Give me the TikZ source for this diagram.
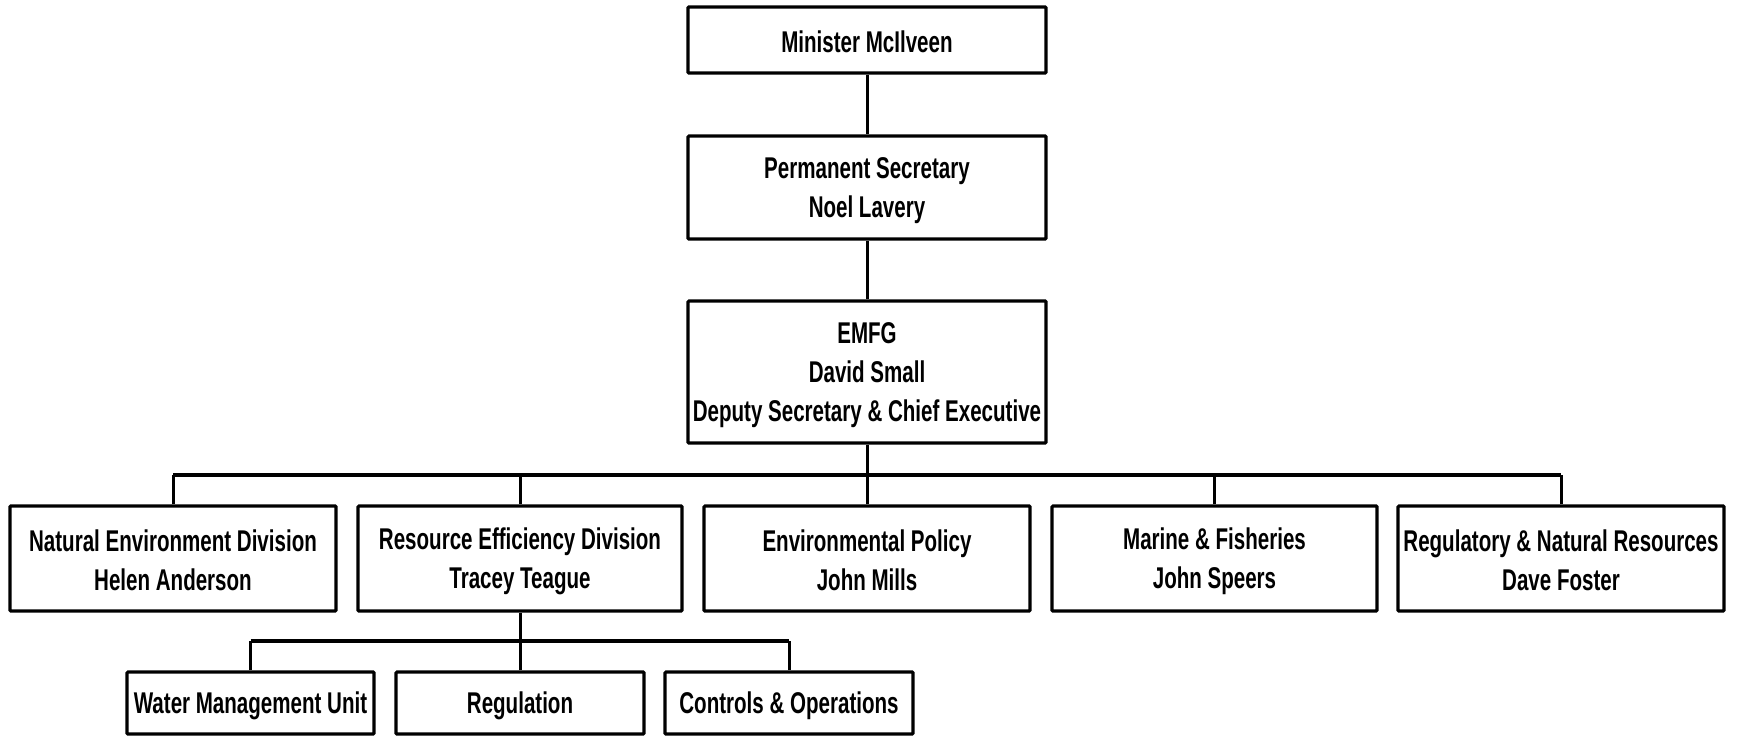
\documentclass[tikz,border=0pt]{standalone}
\usepackage{fontspec}
\setmainfont{Liberation Sans}[FakeStretch=0.685]
\newcommand\st{\rule[-4pt]{0pt}{32pt}}
\begin{document}
\begin{tikzpicture}[x=1pt,y=-1pt,
  box/.style={draw,line width=3.2pt,rounded corners=1pt,inner sep=0pt,align=center,
    font=\fontsize{30}{39}\selectfont\bfseries,minimum height=#1},
  box/.default=105,
  conn/.style={line width=3pt},
  busline/.style={line width=4pt}]
\useasboundingbox (0,0) rectangle (1742,737);
\node[box=66,minimum width=358] (min) at (867,40) {\st Minister McIlveen};
\node[box=103,minimum width=358] (perm) at (867,187.5) {\st Permanent Secretary\\\st Noel Lavery};
\node[box=142,minimum width=358] (emfg) at (867,372) {\st EMFG\\\st David Small\\\st Deputy Secretary \& Chief Executive};
\node[box,minimum width=326] (ned) at (173,558.5) {\st Natural Environment Division\\\st Helen Anderson};
\node[box,minimum width=324] (red) at (520,558.5) {\st Resource Efficiency Division\\\st Tracey Teague};
\node[box,minimum width=326] (env) at (867,558.5) {\st Environmental Policy\\\st John Mills};
\node[box,minimum width=325] (mar) at (1214.5,558.5) {\st Marine \& Fisheries\\\st John Speers};
\node[box,minimum width=326] (reg) at (1561,558.5) {\st Regulatory \& Natural Resources\\\st Dave Foster};
\node[box=62,minimum width=247] (wmu) at (250.5,703) {\st Water Management Unit};
\node[box=62,minimum width=248] (regu) at (520,703) {\st Regulation};
\node[box=62,minimum width=248] (cao) at (789,703) {\st Controls \& Operations};
\coordinate (bus) at (867,475);
\coordinate (sbus) at (520,641);
\draw[conn] (min.south) -- (perm.north);
\draw[conn] (perm.south) -- (emfg.north);
\draw[conn] (emfg.south) -- (bus);
\draw[busline] (ned.north |- bus) -- (reg.north |- bus);
\foreach \n in {ned,red,env,mar,reg} \draw[conn] (\n.north) -- (\n.north |- bus);
\draw[conn] (red.south) -- (sbus);
\draw[busline] (wmu.north |- sbus) -- (cao.north |- sbus);
\foreach \n in {wmu,regu,cao} \draw[conn] (\n.north) -- (\n.north |- sbus);
\end{tikzpicture}
\end{document}
